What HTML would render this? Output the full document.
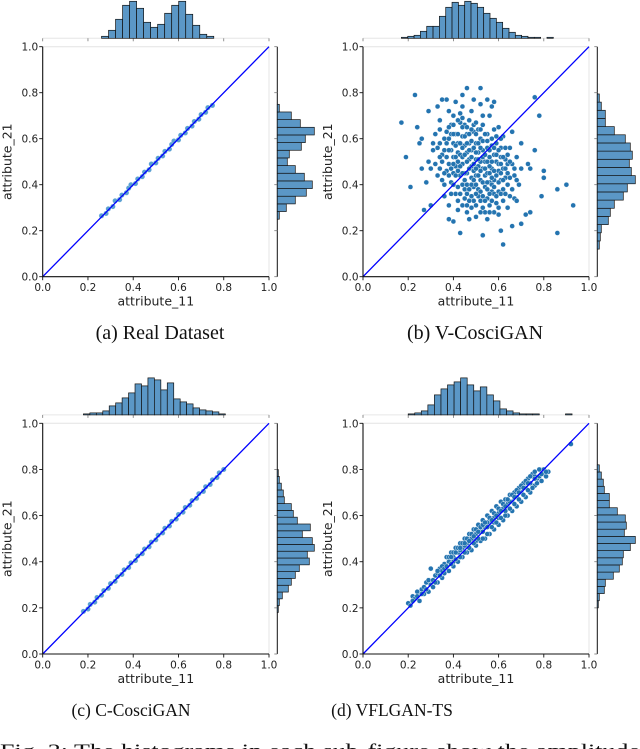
<!DOCTYPE html>
<html><head><meta charset="utf-8">
<style>
html,body{margin:0;padding:0;background:#fff;}
svg{display:block;}
.tick{font-family:"DejaVu Sans","Liberation Sans",sans-serif;font-size:10.5px;fill:#222;}
.axl{font-family:"DejaVu Sans","Liberation Sans",sans-serif;font-size:12.5px;fill:#222;}
.cap{font-family:"Liberation Serif",serif;font-size:17.5px;fill:#111;}
.capt{font-size:20px;}
</style></head>
<body>
<svg id="fig" width="640" height="749" viewBox="0 0 640 749" xmlns="http://www.w3.org/2000/svg">
<text class="cap capt" x="160" y="339" text-anchor="middle">(a) Real Dataset</text>
<text class="cap capt" x="475" y="339" text-anchor="middle">(b) V-CosciGAN</text>
<text class="cap" x="131" y="716" text-anchor="middle">(c) C-CosciGAN</text>
<text class="cap" x="392" y="716" text-anchor="middle">(d) VFLGAN-TS</text>
<text class="cap" x="0" y="757" style="font-size:18.5px" textLength="640" lengthAdjust="spacingAndGlyphs">Fig. 3: The histograms in each sub-figure show the amplitude</text>
</svg>
<script>
// ---- data ----
const panelNames = ['real-dataset','v-coscigan','c-coscigan','vflgan-ts'];
const topHistStart = [0.26, 0.17, 0.18, 0.20];
const topHistWidth = [0.031, 0.028, 0.0285, 0.029];
const topHistA = [2,8,19,33,37,30,16,11,14,25,33,37,24,13,4,2];
const topHistB = [1,2,3,7,12,12,22,31,36,33,37,35,31,25,20,16,10,6,3,2,1,1,0,1,0,0];
const topHistC = [1,2,2,4,9,12,17,22,31,29,37,35,25,32,16,13,11,7,5,4,3,1];
const topHistD = [1,2,4,10,20,26,30,33,37,30,24,28,20,14,6,4,2,1,1,1,0,0,0,0,1];
const rightHistStart = [0.25, 0.12, 0.18, 0.20];
const rightHistWidth = [0.0333, 0.0355, 0.0295, 0.031];
const rightHistA = [2,9,18,29,35,27,18,10,12,24,28,37,23,14,2];
const rightHistB = [2,3,4,11,13,17,26,30,38,34,32,35,33,28,17,8,8,4,2];
const rightHistC = [1,2,5,11,14,18,22,32,30,37,35,25,33,20,16,14,7,6,4,2,1];
const rightHistD = [1,2,7,8,16,22,25,26,33,38,27,29,28,20,12,12,7,6,4,2];
const pointsA = [[0.26,0.265],[0.28,0.275],[0.29,0.295],[0.31,0.305],[0.32,0.33],[0.34,0.335],[0.35,0.355],[0.37,0.365],[0.38,0.385],[0.39,0.40],[0.41,0.405],[0.42,0.425],[0.44,0.435],[0.45,0.455],[0.47,0.465],[0.48,0.49],[0.50,0.495],[0.51,0.515],[0.53,0.525],[0.54,0.545],[0.56,0.555],[0.57,0.575],[0.58,0.59],[0.60,0.595],[0.61,0.615],[0.63,0.625],[0.64,0.645],[0.66,0.655],[0.67,0.675],[0.69,0.685],[0.70,0.705],[0.72,0.715],[0.73,0.735],[0.75,0.745]];
const pointsC = [[0.18,0.185],[0.20,0.195],[0.21,0.215],[0.23,0.225],[0.24,0.245],[0.26,0.255],[0.27,0.275],[0.29,0.285],[0.30,0.305],[0.32,0.315],[0.33,0.335],[0.35,0.345],[0.36,0.365],[0.38,0.375],[0.39,0.395],[0.41,0.405],[0.42,0.425],[0.44,0.435],[0.45,0.455],[0.47,0.465],[0.48,0.485],[0.50,0.495],[0.51,0.515],[0.53,0.525],[0.54,0.545],[0.56,0.555],[0.57,0.575],[0.59,0.585],[0.60,0.605],[0.62,0.615],[0.63,0.635],[0.65,0.645],[0.66,0.665],[0.68,0.675],[0.69,0.695],[0.71,0.705],[0.72,0.725],[0.74,0.735],[0.75,0.755],[0.77,0.765],[0.78,0.785],[0.80,0.80]];
const pointsB = [[0.17,0.67],[0.19,0.52],[0.21,0.39],[0.23,0.79],[0.24,0.65],[0.25,0.58],[0.26,0.47],[0.27,0.29],[0.28,0.41],[0.29,0.72],[0.30,0.31],[0.31,0.55],[0.32,0.62],[0.33,0.74],[0.34,0.68],[0.35,0.77],[0.36,0.35],[0.37,0.77],[0.38,0.25],[0.40,0.24],[0.43,0.19],[0.46,0.82],[0.47,0.25],[0.52,0.82],[0.53,0.18],[0.55,0.77],[0.58,0.76],[0.62,0.14],[0.61,0.20],[0.66,0.22],[0.67,0.34],[0.70,0.23],[0.72,0.27],[0.74,0.28],[0.76,0.78],[0.78,0.70],[0.79,0.35],[0.80,0.46],[0.80,0.43],[0.86,0.19],[0.86,0.38],[0.90,0.40],[0.93,0.31],[0.74,0.47],[0.76,0.55],[0.70,0.58],[0.73,0.49],[0.68,0.42],[0.66,0.63],[0.64,0.53],[0.26,0.60],[0.29,0.50],
[0.36,0.55],[0.38,0.60],[0.40,0.52],[0.42,0.58],[0.44,0.49],[0.46,0.62],[0.48,0.55],[0.50,0.44],[0.52,0.60],[0.54,0.50],[0.56,0.41],[0.58,0.53],[0.60,0.46],[0.62,0.38],[0.64,0.45],[0.37,0.46],[0.39,0.41],[0.41,0.36],[0.43,0.44],[0.45,0.38],[0.47,0.33],[0.49,0.39],[0.51,0.35],[0.53,0.30],[0.55,0.34],[0.57,0.37],[0.59,0.32],[0.61,0.42],[0.63,0.51],[0.65,0.56],[0.35,0.50],[0.37,0.63],[0.39,0.66],[0.41,0.62],[0.43,0.67],[0.45,0.57],[0.47,0.51],[0.49,0.63],[0.51,0.54],[0.53,0.47],[0.55,0.56],[0.57,0.47],[0.59,0.58],[0.61,0.52],[0.63,0.43],[0.36,0.40],[0.38,0.49],[0.40,0.45],[0.42,0.50],[0.44,0.56],[0.46,0.45],[0.48,0.48],[0.50,0.51],[0.52,0.42],[0.54,0.39],[0.56,0.48],[0.58,0.42],[0.60,0.37],[0.62,0.47],[0.64,0.40],[0.40,0.58],[0.42,0.54],[0.44,0.61],[0.46,0.54],[0.48,0.43],[0.50,0.58],[0.52,0.50],[0.54,0.44],[0.56,0.52],[0.58,0.36],[0.44,0.40],[0.46,0.36],[0.48,0.30],[0.50,0.36],[0.52,0.33],[0.54,0.28],[0.56,0.31],[0.58,0.28],[0.60,0.30],[0.62,0.33],[0.39,0.55],[0.41,0.48],[0.43,0.53],[0.45,0.45],[0.47,0.58],[0.49,0.46],[0.51,0.48],[0.53,0.55],[0.55,0.45],[0.57,0.43],[0.59,0.50],[0.61,0.56],[0.45,0.66],[0.47,0.68],[0.49,0.66],[0.51,0.64],[0.43,0.71],[0.40,0.70],[0.53,0.66],[0.55,0.62],[0.34,0.58],[0.33,0.44],[0.32,0.49],[0.35,0.42],[0.36,0.35],[0.66,0.49],[0.67,0.44],[0.66,0.38],[0.68,0.52],[0.38,0.31],[0.42,0.29],[0.46,0.28],[0.50,0.26],[0.55,0.25],[0.60,0.27],[0.64,0.30],[0.44,0.74],[0.48,0.72],[0.52,0.75],[0.56,0.70],[0.60,0.65],[0.38,0.72],[0.34,0.64],[0.31,0.58],[0.30,0.47],[0.70,0.47],[0.69,0.40],[0.68,0.33],[0.58,0.64],[0.62,0.61],[0.49,0.77],[0.41,0.76],[0.44,0.79],[0.57,0.74],[0.53,0.70],
[0.35,0.53],[0.37,0.52],[0.37,0.58],[0.38,0.44],[0.38,0.55],[0.39,0.47],[0.39,0.62],[0.40,0.49],[0.40,0.62],[0.40,0.40],[0.41,0.44],[0.41,0.52],[0.41,0.57],[0.42,0.46],[0.42,0.62],[0.42,0.39],[0.43,0.48],[0.43,0.58],[0.43,0.36],[0.44,0.52],[0.44,0.45],[0.44,0.65],[0.45,0.42],[0.45,0.53],[0.45,0.61],[0.45,0.34],[0.46,0.50],[0.46,0.58],[0.46,0.40],[0.47,0.47],[0.47,0.55],[0.47,0.62],[0.47,0.38],[0.48,0.52],[0.48,0.59],[0.48,0.35],[0.48,0.40],[0.49,0.49],[0.49,0.56],[0.49,0.42],[0.49,0.33],[0.50,0.54],[0.50,0.47],[0.50,0.40],[0.50,0.62],[0.51,0.51],[0.51,0.44],[0.51,0.58],[0.51,0.38],[0.52,0.46],[0.52,0.56],[0.52,0.37],[0.52,0.64],[0.53,0.52],[0.53,0.41],[0.53,0.59],[0.53,0.35],[0.54,0.47],[0.54,0.53],[0.54,0.62],[0.54,0.33],[0.55,0.50],[0.55,0.41],[0.55,0.38],[0.55,0.59],[0.56,0.45],[0.56,0.55],[0.56,0.36],[0.57,0.50],[0.57,0.40],[0.57,0.57],[0.57,0.33],[0.58,0.46],[0.58,0.39],[0.58,0.56],[0.59,0.44],[0.59,0.53],[0.59,0.35],[0.60,0.49],[0.60,0.41],[0.60,0.55],[0.61,0.45],[0.61,0.36],[0.61,0.49],[0.62,0.42],[0.62,0.52],[0.63,0.47],[0.63,0.36],[0.64,0.49],[0.65,0.43],[0.65,0.50],[0.36,0.60],[0.36,0.45],[0.39,0.36],[0.42,0.33],[0.44,0.31],[0.46,0.31],[0.50,0.31],[0.52,0.28],[0.56,0.28],[0.40,0.66],[0.42,0.68],[0.46,0.65],[0.50,0.67],[0.48,0.64],[0.44,0.69],[0.38,0.65],[0.34,0.52],[0.33,0.56],[0.34,0.47],[0.67,0.47],[0.65,0.35],[0.63,0.56],[0.61,0.60],[0.59,0.61],[0.57,0.60]];
const pointsD = [[0.20,0.22],[0.21,0.21],[0.22,0.25],[0.23,0.24],[0.24,0.27],[0.25,0.23],[0.26,0.28],[0.27,0.26],[0.28,0.31],[0.29,0.27],[0.30,0.37],[0.30,0.30],[0.31,0.29],[0.32,0.34],[0.33,0.31],[0.34,0.37],[0.35,0.33],[0.36,0.39],[0.36,0.35],[0.37,0.42],[0.38,0.36],[0.38,0.40],[0.39,0.44],[0.40,0.38],[0.40,0.42],[0.41,0.46],[0.42,0.40],[0.42,0.44],[0.43,0.48],[0.44,0.42],[0.44,0.46],[0.45,0.50],[0.46,0.44],[0.46,0.48],[0.47,0.52],[0.48,0.45],[0.48,0.50],[0.49,0.54],[0.50,0.47],[0.50,0.52],[0.51,0.56],[0.52,0.49],[0.52,0.53],[0.53,0.58],[0.54,0.50],[0.54,0.55],[0.55,0.60],[0.56,0.52],[0.56,0.57],[0.57,0.62],[0.58,0.54],[0.58,0.59],[0.59,0.64],[0.60,0.56],[0.60,0.61],[0.61,0.66],[0.62,0.58],[0.62,0.63],[0.63,0.67],[0.64,0.60],[0.64,0.65],[0.65,0.69],[0.66,0.62],[0.66,0.66],[0.67,0.70],[0.68,0.64],[0.68,0.68],[0.69,0.72],[0.70,0.66],[0.70,0.70],[0.71,0.74],[0.72,0.68],[0.72,0.72],[0.73,0.76],[0.74,0.70],[0.74,0.74],[0.75,0.78],[0.76,0.73],[0.77,0.76],[0.78,0.80],[0.79,0.75],[0.80,0.78],[0.81,0.77],[0.82,0.79],[0.92,0.91],[0.45,0.47],[0.55,0.57],[0.35,0.36],[0.65,0.66],[0.50,0.49],[0.40,0.40],[0.60,0.59],[0.53,0.53],[0.43,0.45],[0.58,0.57],[0.63,0.62],[0.33,0.35],[0.27,0.29],[0.76,0.77],
[0.22,0.23],[0.24,0.25],[0.26,0.26],[0.28,0.28],[0.29,0.32],[0.31,0.32],[0.32,0.31],[0.33,0.36],[0.34,0.34],[0.35,0.38],[0.36,0.37],[0.37,0.38],[0.38,0.42],[0.39,0.39],[0.39,0.42],[0.40,0.44],[0.41,0.41],[0.41,0.44],[0.42,0.46],[0.43,0.42],[0.43,0.46],[0.44,0.48],[0.45,0.44],[0.45,0.48],[0.46,0.50],[0.47,0.46],[0.47,0.49],[0.48,0.52],[0.49,0.48],[0.49,0.51],[0.50,0.54],[0.51,0.50],[0.51,0.53],[0.52,0.55],[0.53,0.50],[0.53,0.56],[0.54,0.57],[0.55,0.52],[0.55,0.55],[0.56,0.59],[0.57,0.55],[0.57,0.58],[0.58,0.61],[0.59,0.57],[0.59,0.60],[0.60,0.63],[0.61,0.59],[0.61,0.62],[0.62,0.65],[0.63,0.60],[0.63,0.64],[0.64,0.67],[0.65,0.63],[0.66,0.69],[0.67,0.65],[0.67,0.68],[0.68,0.71],[0.69,0.67],[0.69,0.70],[0.70,0.73],[0.71,0.69],[0.71,0.72],[0.72,0.75],[0.73,0.71],[0.73,0.74],[0.75,0.72],[0.76,0.76],[0.77,0.74],[0.78,0.77],[0.80,0.80],[0.81,0.79],[0.79,0.78],[0.76,0.79],[0.74,0.77]];
const tickLabels = ['0.0','0.2','0.4','0.6','0.8','1.0'];
const tickValues = [0,0.2,0.4,0.6,0.8,1.0];

// ---- layout ----
const NS='http://www.w3.org/2000/svg';
const svg=document.getElementById('fig');
const layouts=[{l:42.7,r:269,t:46.7,b:276.7},{l:363,r:589,t:46.7,b:276.7},{l:42.7,r:269,t:423.3,b:654},{l:363,r:589,t:423.3,b:654}];
const topHists=[topHistA,topHistB,topHistC,topHistD];
const rightHists=[rightHistA,rightHistB,rightHistC,rightHistD];
const pointSets=[pointsA,pointsB,pointsC,pointsD];
function mk(tag,attrs,parent){const e=document.createElementNS(NS,tag);for(const k in attrs)e.setAttribute(k,attrs[k]);(parent||svg).appendChild(e);return e;}

layouts.forEach((L,i)=>{
  const g=mk('g',{});
  
  
  const sx=v=>L.l+v*(L.r-L.l);
  const sy=v=>L.b-v*(L.b-L.t);
  const histBase=L.t-8.4, rightBase=L.r+8.3, hs=1.0;
  const box=mk('path',{d:`M${L.l},${L.t}H${L.r}V${L.b}`,fill:'none',stroke:'#e4e4e4','stroke-width':1},g);
  
  
  const tg=mk('g',{},g);
  
  
  mk('line',{x1:L.l,x2:L.r,y1:histBase,y2:histBase,stroke:'#e6e6e6','stroke-width':1},tg);
  tickValues.forEach(v=>mk('line',{x1:sx(v),x2:sx(v),y1:histBase,y2:histBase+3,stroke:'#777','stroke-width':0.8},tg));
  topHists[i].forEach((c,k)=>{
    if(c<=0)return;
    const x0=sx(topHistStart[i]+k*topHistWidth[i]), x1=sx(topHistStart[i]+(k+1)*topHistWidth[i]);
    const r=mk('rect',{x:x0,y:histBase-c*hs,width:x1-x0,height:c*hs,fill:'#5b97c6',stroke:'#111','stroke-width':0.7},tg);
    
    
  });
  const rg=mk('g',{},g);
  
  
  mk('line',{x1:rightBase,x2:rightBase,y1:L.t,y2:L.b,stroke:'#111','stroke-width':1},rg);
  tickValues.forEach(v=>mk('line',{x1:rightBase-3,x2:rightBase,y1:sy(v),y2:sy(v),stroke:'#777','stroke-width':0.8},rg));
  rightHists[i].forEach((c,k)=>{
    if(c<=0)return;
    const y0=sy(rightHistStart[i]+(k+1)*rightHistWidth[i]), y1=sy(rightHistStart[i]+k*rightHistWidth[i]);
    const r=mk('rect',{x:rightBase,y:y0,width:c*hs,height:y1-y0,fill:'#5b97c6',stroke:'#111','stroke-width':0.7},rg);
    
    
  });
  const pg=mk('g',{},g);
  
  
  const thin=(i===0||i===2);
  pointSets[i].forEach(p=>{
    const c=mk('circle',{cx:sx(p[0]),cy:sy(p[1]),r:thin?2.6:2.5,fill:thin?'#5aa0d2':'#2474b0',stroke:'#fff','stroke-width':thin?0.2:0.4},pg);
    
    
  });
  const dl=mk('line',{x1:sx(0),y1:sy(0),x2:sx(1),y2:sy(1),stroke:'#0000ff','stroke-width':1.3},g);
  
  
  const ax=mk('path',{d:`M${L.l},${L.t}V${L.b}H${L.r}`,fill:'none',stroke:'#111','stroke-width':1.1},g);
  
  
  tickValues.forEach((v,k)=>{
    mk('line',{x1:L.l-3.5,x2:L.l,y1:sy(v),y2:sy(v),stroke:'#111','stroke-width':0.9},g);
    mk('line',{x1:sx(v),x2:sx(v),y1:L.b,y2:L.b+3.5,stroke:'#111','stroke-width':0.9},g);
    const ty=mk('text',{x:L.l-4.5,y:sy(v)+4,'text-anchor':'end',class:'tick'},g);
    ty.textContent=tickLabels[k];
    
    
    const tx=mk('text',{x:sx(v),y:L.b+14.5,'text-anchor':'middle',class:'tick'},g);
    tx.textContent=tickLabels[k];
    
    
  });
  const xl=mk('text',{x:(L.l+L.r)/2,y:L.b+29,'text-anchor':'middle',class:'axl'},g);
  xl.textContent='attribute_11';
  
  
  const yx=L.l-31, yy=(L.t+L.b)/2;
  const yl=mk('text',{x:yx,y:yy,'text-anchor':'middle',class:'axl',transform:`rotate(-90 ${yx} ${yy})`},g);
  yl.textContent='attribute_21';
  
  
});
</script>
</body></html>
